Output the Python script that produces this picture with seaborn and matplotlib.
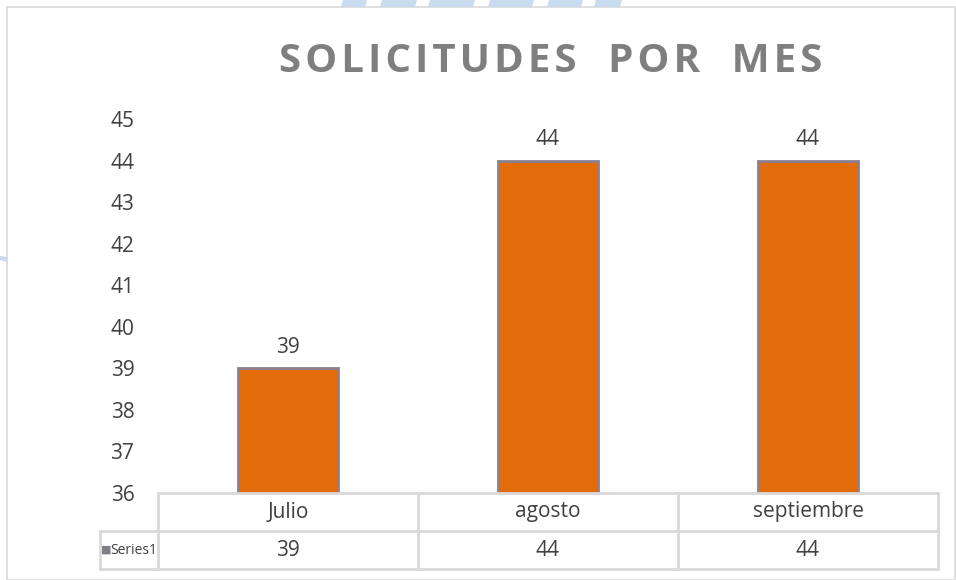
import matplotlib
matplotlib.use("Agg")
import matplotlib.pyplot as plt
import matplotlib.patches as mpatches
import seaborn as sns
import pandas as pd

# data
meses = ["Julio", "agosto", "septiembre"]
solicitudes = [39, 44, 44]
serie = "Series1"
y_ticks = list(range(36, 46))

df = pd.DataFrame({"mes": meses, "valor": solicitudes})

sns.set_style("white")
plt.rcParams["font.family"] = ["Open Sans", "DejaVu Sans"]

W, H = 956, 580
fig = plt.figure(figsize=(W / 100, H / 100), dpi=100)

# outer chart frame and faint watermark pieces
fig.patches.append(mpatches.Rectangle((7 / W, 0), (955 - 7) / W, (H - 7) / H,
                                      transform=fig.transFigure, fill=False,
                                      edgecolor="#d9d9d9", linewidth=1.2))
for x0, x1 in [(343, 367), (382, 417), (430, 475), (490, 534), (549, 583), (596, 622)]:
    fig.patches.append(mpatches.Polygon(
        [(x0 / W, 1), (x1 / W, 1), ((x1 - 2) / W, (H - 7) / H), ((x0 - 2) / W, (H - 7) / H)],
        closed=True, transform=fig.transFigure, facecolor="#c9dbee", edgecolor="none"))
fig.patches.append(mpatches.Polygon(
    [(0, (H - 256) / H), (7 / W, (H - 257) / H), (7 / W, (H - 262) / H), (0, (H - 260) / H)],
    closed=True, transform=fig.transFigure, facecolor="#c9dbee", edgecolor="none"))

left, right, top, bottom = 158, 938, 119, 493
ax = fig.add_axes([left / W, (H - bottom) / H, (right - left) / W, (bottom - top) / H])

sns.barplot(data=df, x="mes", y="valor", ax=ax, color="#e36c0a", width=0.385,
            edgecolor="#8a8090", linewidth=2, saturation=1)

ax.set_ylim(36, 45)
ax.set_yticks(y_ticks)
ax.tick_params(axis="y", labelsize=15, labelcolor="#404040", length=0, pad=17)
ax.set_xticks([])
ax.set_xlabel("")
ax.set_ylabel("")
for s in ax.spines.values():
    s.set_visible(False)

for i, v in enumerate(solicitudes):
    ax.text(i, v + 0.25, str(v), ha="center", va="bottom", fontsize=15, color="#404040")

# title with letter spacing
titulo = "SOLICITUDES POR MES"
fig.text((left + right) / 2 / W + 0.003, (H - 61) / H,
         "   ".join("\u200a".join(w) for w in titulo.split(" ")),
         ha="center", va="center", fontsize=29, fontweight="bold", color="#7f7f7f")

# data table under the plot
line_c = "#d9d9d9"
row_h = (bottom - top)
r1 = -38 / row_h
r2 = -76 / row_h
xmin_lab = (100 - left) / (right - left)
tr = ax.transAxes
kw = dict(transform=tr, color=line_c, linewidth=2, clip_on=False, scalex=False, scaley=False)
ax.plot([0, 1], [0, 0], **kw)
ax.plot([xmin_lab, 1], [r1, r1], **kw)
ax.plot([xmin_lab, 1], [r2, r2], **kw)
ax.plot([xmin_lab, xmin_lab], [r1, r2], **kw)
for k in range(len(meses) + 1):
    ax.plot([k / 3, k / 3], [0, r2], **kw)

for k, (m, v) in enumerate(zip(meses, solicitudes)):
    ax.text((k + 0.5) / 3, r1 / 2, m, transform=tr, ha="center", va="center",
            fontsize=15, color="#404040")
    ax.text((k + 0.5) / 3, (r1 + r2) / 2, str(v), transform=tr, ha="center", va="center",
            fontsize=15, color="#404040")
ax.text(xmin_lab + 0.001, (r1 + r2) / 2, "\u25a0", transform=tr, ha="left", va="center",
        fontsize=8, color="#7f7f86", family=["DejaVu Sans"])
ax.text(-0.001, (r1 + r2) / 2, serie, transform=tr, ha="right", va="center",
        fontsize=10, color="#404040")

ax.set_xlim(-0.5, len(meses) - 0.5)

fig.savefig("out.png", dpi=100)
